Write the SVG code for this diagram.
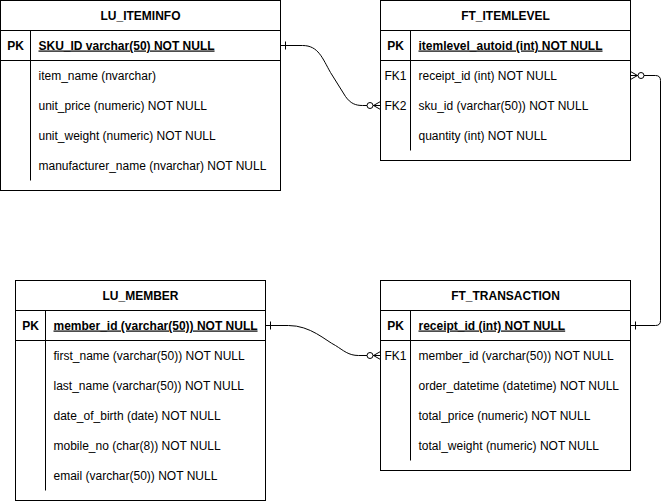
<svg xmlns="http://www.w3.org/2000/svg" width="670" height="501" viewBox="0 0 670 501">
<defs>
<style>
.box{fill:#fff;stroke:#000;stroke-width:1}
.ln{fill:none;stroke:#000;stroke-width:1}
.hd{font-family:"Liberation Sans",Arial,sans-serif;font-size:12px;font-weight:bold;text-anchor:middle;fill:#000}
.key{font-family:"Liberation Sans",Arial,sans-serif;font-size:12px;text-anchor:middle;fill:#000}
.pk{font-weight:bold}
.fd{font-family:"Liberation Sans",Arial,sans-serif;font-size:12px;fill:#000}
.pf{font-weight:bold;text-decoration:underline}
.conn{fill:none;stroke:#000;stroke-width:1}
</style>
<marker id="zeroMany" markerUnits="userSpaceOnUse" markerWidth="20" markerHeight="12" viewBox="-16 -6 20 12" refX="0" refY="0" orient="auto" overflow="visible">
<path d="M-7,0 L0,-4 M-7,0 L0,0 M-7,0 L0,4" fill="none" stroke="#000" stroke-width="1"/>
<circle cx="-10.5" cy="0" r="3" fill="#fff" stroke="#000" stroke-width="1"/>
</marker>
<marker id="zeroManyS" markerUnits="userSpaceOnUse" markerWidth="20" markerHeight="12" viewBox="-16 -6 20 12" refX="0" refY="0" orient="auto-start-reverse" overflow="visible">
<path d="M-7,0 L0,-4 M-7,0 L0,0 M-7,0 L0,4" fill="none" stroke="#000" stroke-width="1"/>
<circle cx="-10.5" cy="0" r="3" fill="#fff" stroke="#000" stroke-width="1"/>
</marker>
<marker id="oneS" markerUnits="userSpaceOnUse" markerWidth="12" markerHeight="12" viewBox="-10 -6 12 12" refX="0" refY="0" orient="auto-start-reverse" overflow="visible">
<path d="M-5,-4 L-5,4" fill="none" stroke="#000" stroke-width="1"/>
</marker>
<marker id="oneE" markerUnits="userSpaceOnUse" markerWidth="12" markerHeight="12" viewBox="-10 -6 12 12" refX="0" refY="0" orient="auto" overflow="visible">
<path d="M-5,-4 L-5,4" fill="none" stroke="#000" stroke-width="1"/>
</marker>
</defs>
<g transform="translate(0.5,0.5)">
<g id="connectors">
<path class="conn" d="M280,45 L302,45 C318,45 322,58 330,72 L345,96 C350,103 355,105 362,105 L380,105" marker-start="url(#oneS)" marker-end="url(#zeroMany)"/>
<path class="conn" d="M630,75 L655,75 Q660,75 660,80 L660,320 Q660,325 655,325 L630,325" marker-start="url(#zeroManyS)" marker-end="url(#oneE)"/>
<path class="conn" d="M265,325 L288,325 C310,325 325,340 335,345 C343,350 348,355 358,355 L380,355" marker-start="url(#oneS)" marker-end="url(#zeroMany)"/>
</g>
<g id="LU_ITEMINFO">
<rect class="box" x="0" y="0" width="280" height="190"/>
<path class="ln" d="M0,30 L280,30 M0,60 L280,60 M30,30 L30,180"/>
<text class="hd" x="140" y="19">LU_ITEMINFO</text>
<text class="key pk" x="15" y="49">PK</text>
<text class="fd pf" x="38" y="49">SKU_ID varchar(50) NOT NULL</text>
<text class="fd" x="38" y="79">item_name (nvarchar)</text>
<text class="fd" x="38" y="109">unit_price (numeric) NOT NULL</text>
<text class="fd" x="38" y="139">unit_weight (numeric) NOT NULL</text>
<text class="fd" x="38" y="169">manufacturer_name (nvarchar) NOT NULL</text>
</g>
<g id="FT_ITEMLEVEL">
<rect class="box" x="380" y="0" width="250" height="160"/>
<path class="ln" d="M380,30 L630,30 M380,60 L630,60 M410,30 L410,150"/>
<text class="hd" x="505" y="19">FT_ITEMLEVEL</text>
<text class="key pk" x="395" y="49">PK</text>
<text class="fd pf" x="418" y="49">itemlevel_autoid (int) NOT NULL</text>
<text class="key" x="395" y="79">FK1</text>
<text class="fd" x="418" y="79">receipt_id (int) NOT NULL</text>
<text class="key" x="395" y="109">FK2</text>
<text class="fd" x="418" y="109">sku_id (varchar(50)) NOT NULL</text>
<text class="fd" x="418" y="139">quantity (int) NOT NULL</text>
</g>
<g id="LU_MEMBER">
<rect class="box" x="15" y="280" width="250" height="220"/>
<path class="ln" d="M15,310 L265,310 M15,340 L265,340 M45,310 L45,490"/>
<text class="hd" x="140" y="299">LU_MEMBER</text>
<text class="key pk" x="30" y="329">PK</text>
<text class="fd pf" x="53" y="329">member_id (varchar(50)) NOT NULL</text>
<text class="fd" x="53" y="359">first_name (varchar(50)) NOT NULL</text>
<text class="fd" x="53" y="389">last_name (varchar(50)) NOT NULL</text>
<text class="fd" x="53" y="419">date_of_birth (date) NOT NULL</text>
<text class="fd" x="53" y="449">mobile_no (char(8)) NOT NULL</text>
<text class="fd" x="53" y="479">email (varchar(50)) NOT NULL</text>
</g>
<g id="FT_TRANSACTION">
<rect class="box" x="380" y="280" width="250" height="190"/>
<path class="ln" d="M380,310 L630,310 M380,340 L630,340 M410,310 L410,460"/>
<text class="hd" x="505" y="299">FT_TRANSACTION</text>
<text class="key pk" x="395" y="329">PK</text>
<text class="fd pf" x="418" y="329">receipt_id (int) NOT NULL</text>
<text class="key" x="395" y="359">FK1</text>
<text class="fd" x="418" y="359">member_id (varchar(50)) NOT NULL</text>
<text class="fd" x="418" y="389">order_datetime (datetime) NOT NULL</text>
<text class="fd" x="418" y="419">total_price (numeric) NOT NULL</text>
<text class="fd" x="418" y="449">total_weight (numeric) NOT NULL</text>
</g>
</g>
</svg>
